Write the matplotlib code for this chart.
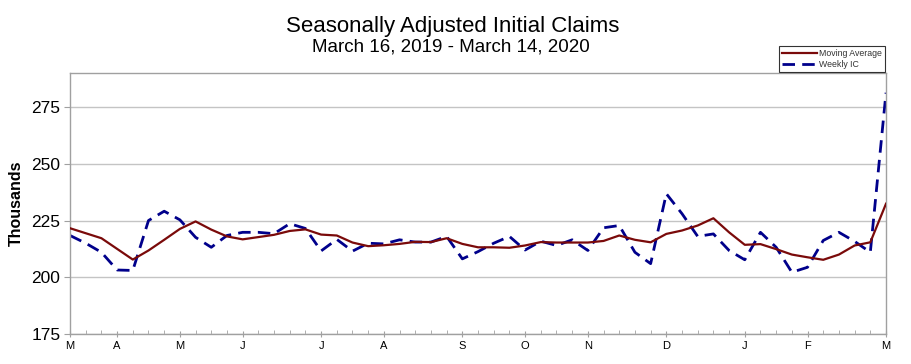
import matplotlib
matplotlib.use("Agg")
import matplotlib.pyplot as plt
import numpy as np

plt.rcParams['font.family'] = ['Liberation Sans', 'DejaVu Sans']

# Week index 0 = week ending March 16, 2019 ... 52 = March 14, 2020
weekly_ic = [218.4, 215.0, 211.0, 203.2, 203.0, 225.0, 229.1, 225.3, 217.6, 213.2,
             218.4, 219.8, 219.8, 219.2, 223.6, 221.5, 211.6, 216.7, 211.5, 215.0,
             214.7, 216.5, 215.5, 215.5, 218.0, 208.1, 211.3, 215.0, 218.0, 212.0,
             215.9, 214.0, 216.5, 211.8, 221.8, 222.8, 211.0, 206.0, 236.8, 228.0,
             218.0, 219.1, 211.8, 207.7, 219.8, 213.2, 202.2, 204.4, 216.2, 219.8,
             215.8, 211.0, 281.3]
moving_avg = [221.6, 219.4, 217.2, 212.5, 207.8, 211.8, 216.5, 221.3, 224.6, 221.0,
              218.0, 216.7, 217.7, 218.7, 220.4, 221.1, 218.8, 218.4, 215.3, 213.7,
              214.1, 214.7, 215.6, 215.5, 217.2, 214.7, 213.2, 213.2, 213.0, 214.0,
              215.5, 215.3, 215.3, 215.3, 216.0, 218.4, 216.5, 215.4, 219.1, 220.6,
              222.8, 226.0, 219.8, 214.3, 214.6, 212.4, 210.0, 208.8, 207.7, 210.0,
              214.0, 215.4, 232.4]
month_labels = ['M', 'A', 'M', 'J', 'J', 'A', 'S', 'O', 'N', 'D', 'J', 'F', 'M']
month_label_weeks = [0, 3, 7, 11, 16, 20, 25, 29, 33, 38, 43, 47, 52]
y_ticks = [175, 200, 225, 250, 275]

weeks = np.arange(len(weekly_ic))

fig = plt.figure(figsize=(9.12, 3.64), dpi=100)
ax = fig.add_axes([0.0768, 0.0824, 0.8947, 0.7171])

ax.plot(weeks, moving_avg, color='#7a0a0a', lw=1.6, label='Moving Average', zorder=3)
ax.plot(weeks, weekly_ic, color='#00008b', lw=2.0, dashes=(4.5, 2.6), label='Weekly IC', zorder=2)

ax.set_xlim(0, 52)
ax.set_ylim(175, 290)
ax.set_yticks(y_ticks)
ax.set_yticklabels([str(v) for v in y_ticks], fontsize=12.5)
ax.yaxis.grid(True, color='#c4c4c4', lw=1.0)
ax.set_axisbelow(True)

ax.set_xticks(month_label_weeks)
ax.set_xticklabels(month_labels, fontsize=8)
ax.set_xticks(weeks, minor=True)
ax.tick_params(axis='x', which='major', direction='inout', length=5, color='#a0a0a0', pad=2.5)
ax.tick_params(axis='x', which='minor', direction='in', length=3, color='#a0a0a0')
ax.tick_params(axis='y', which='major', direction='out', length=4, color='#a0a0a0', pad=3)

for s in ax.spines.values():
    s.set_color('#a0a0a0')
    s.set_linewidth(1.0)

ax.set_ylabel('Thousands', fontsize=11.5, fontweight='bold', labelpad=5)

fig.text(0.496, 0.927, 'Seasonally Adjusted Initial Claims', ha='center', va='center', fontsize=16)
fig.text(0.494, 0.872, 'March 16, 2019 - March 14, 2020', ha='center', va='center', fontsize=13.5)

leg = fig.legend(loc='upper right', bbox_to_anchor=(0.970, 0.875), fontsize=6.3,
                 frameon=True, fancybox=False, handlelength=4.0, borderpad=0.35,
                 labelspacing=0.3, handletextpad=0.2, borderaxespad=0)
leg.get_frame().set_edgecolor('black')
leg.get_frame().set_linewidth(0.8)
for t in leg.get_texts():
    t.set_color('#333333')

fig.savefig('out.png', dpi=100)
